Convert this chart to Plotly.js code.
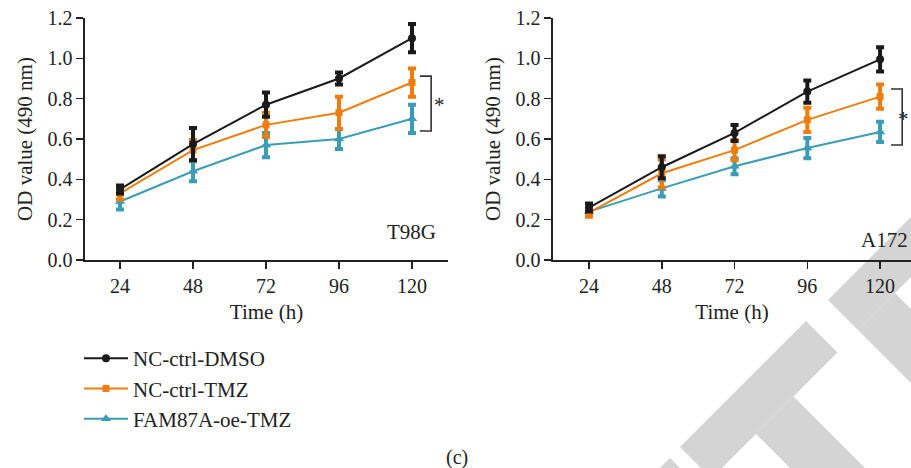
<!DOCTYPE html>
<html>
<head>
<meta charset="utf-8">
<script src="https://cdn.plot.ly/plotly-3.0.1.min.js"></script>
<style>html,body{margin:0;padding:0;background:#fff;}#chart{width:911px;height:468px;}</style>
</head>
<body>
<div id="chart"></div>
<script>
// ---- data ----
const times = [24, 48, 72, 96, 120];
const seriesNames = ["NC-ctrl-DMSO", "NC-ctrl-TMZ", "FAM87A-oe-TMZ"];

const t98g_dmso = [0.35, 0.575, 0.77, 0.90, 1.10];
const t98g_dmso_err = [0.02, 0.08, 0.06, 0.03, 0.07];
const t98g_tmz = [0.33, 0.545, 0.67, 0.73, 0.88];
const t98g_tmz_err = [0.03, 0.05, 0.06, 0.08, 0.07];
const t98g_fam = [0.29, 0.44, 0.57, 0.60, 0.70];
const t98g_fam_err = [0.04, 0.05, 0.06, 0.05, 0.07];

const a172_dmso = [0.26, 0.46, 0.63, 0.835, 0.995];
const a172_dmso_err = [0.02, 0.055, 0.04, 0.055, 0.06];
const a172_tmz = [0.235, 0.43, 0.545, 0.695, 0.81];
const a172_tmz_err = [0.02, 0.07, 0.05, 0.06, 0.06];
const a172_fam = [0.24, 0.355, 0.465, 0.555, 0.635];
const a172_fam_err = [0.02, 0.04, 0.04, 0.05, 0.05];

const yTicks = [0, 0.2, 0.4, 0.6, 0.8, 1.0, 1.2];
const yTickText = ["0.0", "0.2", "0.4", "0.6", "0.8", "1.0", "1.2"];

// ---- styles ----
const FONT = "Liberation Serif, Times New Roman, serif";
const colors = ["#1a1a1a", "#ef7d0e", "#3a9db5"];
const symbols = ["circle", "square", "triangle-up"];
const msizes = [8, 7, 9];

function mk(x, y, err, idx, xa, ya, showlegend) {
  return {
    x: x, y: y, type: "scatter", mode: "lines+markers",
    name: seriesNames[idx], xaxis: xa, yaxis: ya, showlegend: showlegend,
    legendrank: idx + 1,
    line: {color: colors[idx], width: 2},
    marker: {color: colors[idx], symbol: symbols[idx], size: msizes[idx]},
    error_y: {type: "data", array: err, visible: true, color: colors[idx], thickness: 4, width: 4}
  };
}

const data = [
  mk(times, t98g_fam, t98g_fam_err, 2, "x", "y", true),
  mk(times, t98g_tmz, t98g_tmz_err, 1, "x", "y", true),
  mk(times, t98g_dmso, t98g_dmso_err, 0, "x", "y", true),
  mk(times, a172_fam, a172_fam_err, 2, "x2", "y2", false),
  mk(times, a172_tmz, a172_tmz_err, 1, "x2", "y2", false),
  mk(times, a172_dmso, a172_dmso_err, 0, "x2", "y2", false)
];

const W = 911, H = 468;
function px(x) { return x / W; }
function py(y) { return 1 - y / H; }
function poly(pts) {
  return "M" + pts.map(p => px(p[0]).toFixed(4) + "," + py(p[1]).toFixed(4)).join(" L") + " Z";
}
function wm(pts) {
  return {type: "path", xref: "paper", yref: "paper", layer: "below", line: {width: 0}, fillcolor: "#d4d4d4", path: poly(pts)};
}

const axisCommon = {
  showline: true, linecolor: "#222", linewidth: 1.6,
  ticks: "outside", ticklen: 7, tickwidth: 1.6, tickcolor: "#222",
  showgrid: false, zeroline: false,
  tickfont: {family: FONT, size: 20, color: "#222"}
};
const titleFont = {family: FONT, size: 21, color: "#222"};

const layout = {
  width: W, height: H,
  margin: {l: 0, r: 0, t: 0, b: 0},
  paper_bgcolor: "#fff", plot_bgcolor: "rgba(0,0,0,0)",
  font: {family: FONT, color: "#222"},
  xaxis: Object.assign({}, axisCommon, {
    domain: [px(85), px(448)], range: [12.49, 131.84], anchor: "y",
    tickvals: times, title: {text: "Time (h)", font: titleFont, standoff: 9}
  }),
  yaxis: Object.assign({}, axisCommon, {
    domain: [py(260), py(18)], range: [0, 1.2], anchor: "x",
    tickvals: yTicks, ticktext: yTickText,
    title: {text: "OD value (490 nm)", font: titleFont, standoff: 9}
  }),
  xaxis2: Object.assign({}, axisCommon, {
    domain: [px(553), 1], range: [12.12, 130.2], anchor: "y2",
    tickvals: times, title: {text: "Time (h)", font: titleFont, standoff: 9}
  }),
  yaxis2: Object.assign({}, axisCommon, {
    domain: [py(260), py(18)], range: [0, 1.2], anchor: "x2",
    tickvals: yTicks, ticktext: yTickText,
    title: {text: "OD value (490 nm)", font: titleFont, standoff: 9}
  }),
  showlegend: true,
  legend: {
    x: px(79), y: py(338), xanchor: "left", yanchor: "top",
    traceorder: "normal", itemwidth: 44,
    font: {family: FONT, size: 21, color: "#222"},
    bgcolor: "rgba(0,0,0,0)"
  },
  annotations: [
    {xref: "x", yref: "y", x: 120, y: 0.14, text: "T98G", showarrow: false, font: titleFont},
    {xref: "x2", yref: "y2", x: 121.5, y: 0.10, text: "A172", showarrow: false, font: titleFont},
    {xref: "x", yref: "y", x: 129.2, y: 0.77, text: "*", showarrow: false, font: titleFont},
    {xref: "paper", yref: "y2", x: 1, y: 0.70, text: "*", showarrow: false, xanchor: "right", font: titleFont},
    {xref: "paper", yref: "paper", x: px(457), y: py(457), xanchor: "center", yanchor: "middle", text: "(c)", showarrow: false, font: {family: FONT, size: 20, color: "#222"}}
  ],
  shapes: [
    // watermark (decoration)
    wm([[806, 321], [837.5, 352.5], [722, 468], [701, 468], [680, 447]]),
    wm([[756, 434], [793.5, 396.5], [865, 468], [790, 468]]),
    wm([[670, 458], [680, 468], [660, 468]]),
    wm([[828, 300], [911, 217], [911, 277], [858, 330]]),
    wm([[858, 330], [895, 293], [911, 309], [911, 383]]),
    // significance brackets
    {type: "path", xref: "x", yref: "y", line: {color: "#333", width: 1.6},
     path: "M122.6,0.912 L126.3,0.912 L126.3,0.640 L122.6,0.640"},
    {type: "path", xref: "x2", yref: "y2", line: {color: "#333", width: 1.6},
     path: "M123.6,0.848 L127.3,0.848 L127.3,0.570 L123.6,0.570"}
  ]
};

Plotly.newPlot("chart", data, layout, {displayModeBar: false, staticPlot: true});
</script>
</body>
</html>
